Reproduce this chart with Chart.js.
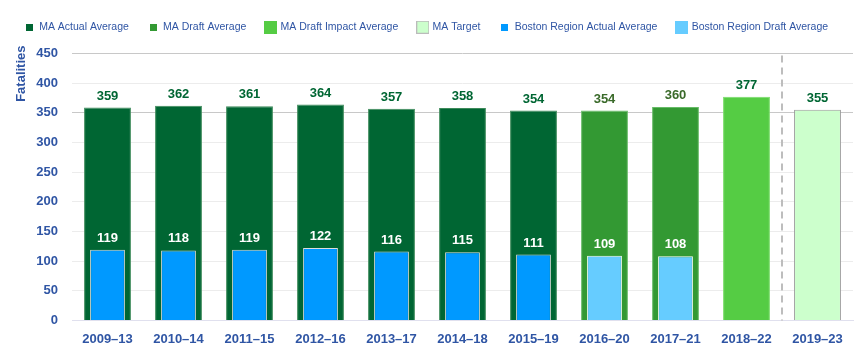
<!DOCTYPE html>
<html>
<head>
<meta charset="utf-8">
<script src="https://cdn.jsdelivr.net/npm/chart.js@4"></script>
<style>
  html, body { margin: 0; padding: 0; background: #fff; }
  #wrap { width: 864px; height: 354px; }
</style>
</head>
<body>
<div id="wrap"><canvas id="grafico"></canvas></div>
<script>
// dados
var periods = ["2009–13", "2010–14", "2011–15", "2012–16", "2013–17", "2014–18", "2015–19", "2016–20", "2017–21", "2018–22", "2019–23"];
var maActual      = [359, 362, 361, 364, 357, 358, 354, null, null, null, null];
var maDraft       = [null, null, null, null, null, null, null, 354, 360, null, null];
var maDraftImpact = [null, null, null, null, null, null, null, null, null, 377, null];
var maTarget      = [null, null, null, null, null, null, null, null, null, null, 355];
var bostonActual  = [119, 118, 119, 122, 116, 115, 111, null, null, null, null];
var bostonDraft   = [null, null, null, null, null, null, null, 109, 108, null, null];
var yTicks = [0, 50, 100, 150, 200, 250, 300, 350, 400, 450];

var azul = '#2f55a4';
var fonte = '"Liberation Sans", Arial, sans-serif';

//quadradinho da legenda (tamanhos diferentes como no original)
function caixa(cor, tam, borda) {
  var c = document.createElement('canvas');
  c.width = tam; c.height = tam;
  var g = c.getContext('2d');
  g.fillStyle = cor;
  g.fillRect(0, 0, tam, tam);
  if (borda) {
    g.strokeStyle = borda;
    g.lineWidth = 1;
    g.strokeRect(0.5, 0.5, tam - 1, tam - 1);
  }
  return c;
}

//espaco extra embaixo da legenda
var espacoLegenda = {
  id: 'espacoLegenda',
  beforeInit: function(chart) {
    var fitOrig = chart.legend.fit;
    chart.legend.fit = function() {
      fitOrig.bind(chart.legend)();
      this.height += 11;
    };
  }
};

//Plugin para os rotulos, linha tracejada e titulo do eixo
var rotulos = {
  id: 'rotulos',
  afterDatasetsDraw: function(chart) {
    var ctx = chart.ctx;
    ctx.save();
    ctx.font = 'bold 13px ' + fonte;
    ctx.textAlign = 'center';
    ctx.textBaseline = 'bottom';
    chart.data.datasets.forEach(function(ds, i) {
      var meta = chart.getDatasetMeta(i);
      if (meta.hidden) return;
      meta.data.forEach(function(bar, j) {
        var v = ds.data[j];
        if (v === null || v === undefined) return;
        ctx.fillStyle = ds.labelColor;
        ctx.fillText(v, bar.x, bar.y - 5);
      });
    });
    // linha tracejada entre 2018-22 e 2019-23
    var x = chart.scales.x;
    var xp = Math.round((x.getPixelForTick(9) + x.getPixelForTick(10)) / 2);
    ctx.strokeStyle = '#bdbdbd';
    ctx.lineWidth = 2;
    ctx.setLineDash([7, 5]);
    ctx.beginPath();
    ctx.moveTo(xp, chart.chartArea.top + 2);
    ctx.lineTo(xp, chart.chartArea.bottom);
    ctx.stroke();
    ctx.setLineDash([]);
    // titulo do eixo y
    ctx.translate(21, chart.chartArea.top - 8);
    ctx.rotate(-Math.PI / 2);
    ctx.textAlign = 'right';
    ctx.textBaseline = 'middle';
    ctx.fillStyle = azul;
    ctx.font = 'bold 13px ' + fonte;
    ctx.fillText('Fatalities', 0, 0);
    ctx.restore();
  }
};

var greenBar = 0.66, blueBar = 0.49;

var config = {
  type: 'bar',
  data: {
    labels: periods,
    datasets: [
      { label: 'MA Actual Average', data: maActual, backgroundColor: '#006633', borderColor: '#3d8a5a', borderWidth: 1, barPercentage: greenBar, order: 2, labelColor: '#006633', legendBox: caixa('#006633', 7) },
      { label: 'MA Draft Average', data: maDraft, backgroundColor: '#339933', borderColor: '#66bb66', borderWidth: 1, barPercentage: greenBar, order: 2, labelColor: '#3a6a2a', legendBox: caixa('#339933', 7) },
      { label: 'MA Draft Impact Average', data: maDraftImpact, backgroundColor: '#55cc44', borderColor: '#77dd66', borderWidth: 1, barPercentage: greenBar, order: 2, labelColor: '#006633', legendBox: caixa('#55cc44', 13) },
      { label: 'MA Target', data: maTarget, backgroundColor: '#ccffcc', borderColor: '#999999', borderWidth: 1, barPercentage: greenBar, order: 2, labelColor: '#006633', legendBox: caixa('#ccffcc', 13, '#bbbbbb') },
      { label: 'Boston Region Actual Average', data: bostonActual, backgroundColor: '#0099ff', borderColor: '#dddddd', borderWidth: 1, barPercentage: blueBar, order: 1, labelColor: '#ffffff', legendBox: caixa('#0099ff', 7) },
      { label: 'Boston Region Draft Average', data: bostonDraft, backgroundColor: '#66ccff', borderColor: '#ffffff', borderWidth: 1, barPercentage: blueBar, order: 1, labelColor: '#ffffff', legendBox: caixa('#66ccff', 13) }
    ]
  },
  options: {
    responsive: true,
    maintainAspectRatio: false,
    animation: false,
    layout: { padding: { left: 0, right: 11, top: 2, bottom: 4 } },
    datasets: { bar: { grouped: false, categoryPercentage: 1 } },
    plugins: {
      legend: {
        position: 'top',
        labels: {
          usePointStyle: true,
          pointStyleWidth: 9,
          padding: 20,
          color: azul,
          font: { family: fonte, size: 10.5 },
          sort: function(a, b) { return a.datasetIndex - b.datasetIndex; },
          generateLabels: function(chart) {
            var itens = Chart.defaults.plugins.legend.labels.generateLabels(chart);
            itens.forEach(function(it) {
              it.pointStyle = chart.data.datasets[it.datasetIndex].legendBox;
            });
            return itens;
          }
        }
      },
      tooltip: { enabled: false }
    },
    scales: {
      x: {
        grid: { display: false },
        border: { color: '#e0e0ee' },
        ticks: { color: azul, font: { family: fonte, size: 13, weight: 'bold' } }
      },
      y: {
        min: 0,
        max: 450,
        afterBuildTicks: function(axis) {
          axis.ticks = yTicks.map(function(v) { return { value: v }; });
        },
        afterFit: function(axis) { axis.width = 72; },
        grid: {
          drawTicks: false,
          color: function(c) {
            var v = c.tick ? c.tick.value : 0;
            if (v === 350 || v === 450) return '#c8c8c8';
            if (v === 0) return '#e0e0ee';
            return '#ececec';
          }
        },
        border: { display: false },
        ticks: { padding: 14, color: azul, font: { family: fonte, size: 13, weight: 'bold' } }
      }
    }
  },
  plugins: [espacoLegenda, rotulos]
};

window.onload = function() {
  var ctx = document.getElementById("grafico").getContext("2d");
  window.myBar = new Chart(ctx, config);
};
</script>
</body>
</html>
